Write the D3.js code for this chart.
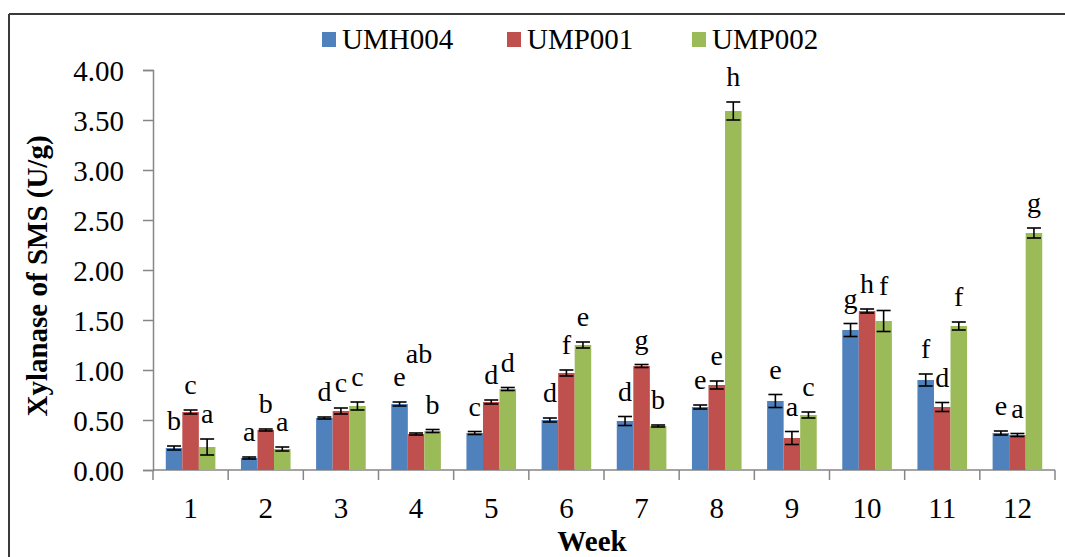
<!DOCTYPE html>
<html>
<head>
<meta charset="utf-8">
<script src="https://cdn.jsdelivr.net/npm/d3@7"></script>
</head>
<body style="margin:0">
<script>
// data
const weeks = ['1', '2', '3', '4', '5', '6', '7', '8', '9', '10', '11', '12'];
const seriesNames = ['UMH004', 'UMP001', 'UMP002'];
const colors = ['#4F81BD', '#C0504D', '#9BBB59'];

const umh004 = [0.22, 0.12, 0.52, 0.66, 0.37, 0.50, 0.49, 0.63, 0.69, 1.40, 0.90, 0.37];
const ump001 = [0.58, 0.40, 0.59, 0.36, 0.68, 0.97, 1.04, 0.85, 0.32, 1.59, 0.63, 0.35];
const ump002 = [0.23, 0.21, 0.64, 0.39, 0.81, 1.25, 0.44, 3.59, 0.55, 1.49, 1.44, 2.37];

const umh004Err = [0.02, 0.01, 0.01, 0.02, 0.015, 0.02, 0.045, 0.02, 0.065, 0.065, 0.06, 0.02];
const ump001Err = [0.02, 0.01, 0.03, 0.01, 0.02, 0.03, 0.015, 0.04, 0.065, 0.02, 0.045, 0.015];
const ump002Err = [0.08, 0.02, 0.04, 0.015, 0.015, 0.03, 0.01, 0.09, 0.03, 0.105, 0.04, 0.05];

const umh004Lab = ['b', 'a', 'd', 'e', 'c', 'd', 'd', 'e', 'e', 'g', 'f', 'e'];
const ump001Lab = ['c', 'b', 'c', 'ab', 'd', 'f', 'g', 'e', 'a', 'h', 'd', 'a'];
const ump002Lab = ['a', 'a', 'c', 'b', 'd', 'e', 'b', 'h', 'c', 'f', 'f', 'g'];

const yTicks = [0, 0.5, 1, 1.5, 2, 2.5, 3, 3.5, 4];

const values = [umh004, ump001, ump002];
const errs = [umh004Err, ump001Err, ump002Err];
const labs = [umh004Lab, ump001Lab, ump002Lab];

const width = 1065;
const height = 557;
const plotLeft = 153, plotRight = 1055, plotTop = 70, plotBottom = 470;
const fontName = ['Liberation', 'Serif'].join(' ');
const ff = () => `'${fontName}'`;

const svg = d3.select('body')
    .append('svg')
    .attr('width', width)
    .attr('height', height)
    .style('display', 'block');

// outer frame (only top and left visible in the crop)
svg.append('line')
    .attr('x1', 9).attr('x2', width).attr('y1', 14).attr('y2', 14)
    .attr('stroke', '#3a3a3a').attr('stroke-width', 2);
svg.append('line')
    .attr('x1', 9).attr('x2', 9).attr('y1', 14).attr('y2', height)
    .attr('stroke', '#3a3a3a').attr('stroke-width', 2);

const x0 = d3.scaleBand()
    .domain(weeks)
    .range([plotLeft, plotRight])
    .paddingInner(0.34)
    .paddingOuter(0.17);

const x1 = d3.scaleBand()
    .domain(seriesNames)
    .range([0, x0.bandwidth()]);

const y = d3.scaleLinear()
    .domain([0, 4])
    .range([plotBottom, plotTop]);

// y axis
const yAxis = svg.append('g')
    .attr('transform', `translate(${plotLeft},0)`)
    .call(d3.axisLeft(y).tickValues(yTicks).tickFormat(d3.format('.2f')).tickSize(10).tickPadding(19));
yAxis.attr('font-family', null).attr('font-size', null);
yAxis.select('.domain').attr('stroke', '#868686').attr('stroke-width', 1.5);
yAxis.selectAll('.tick line').attr('stroke', '#868686').attr('stroke-width', 1.5);
yAxis.selectAll('.tick text')
    .style('font-family', ff)
    .style('font-size', '29px')
    .attr('fill', '#000')
    .attr('dy', '0.35em');

// x axis with ticks between categories
const step = x0.step();
const xAxisG = svg.append('g');
xAxisG.append('line')
    .attr('x1', plotLeft).attr('x2', plotRight)
    .attr('y1', plotBottom).attr('y2', plotBottom)
    .attr('stroke', '#868686').attr('stroke-width', 1.5);
xAxisG.selectAll('line.sep')
    .data(d3.range(weeks.length + 1))
    .join('line')
    .attr('class', 'sep')
    .attr('x1', i => plotLeft + i * step).attr('x2', i => plotLeft + i * step)
    .attr('y1', plotBottom).attr('y2', plotBottom + 10)
    .attr('stroke', '#868686').attr('stroke-width', 1.5);
xAxisG.selectAll('text')
    .data(weeks)
    .join('text')
    .attr('x', d => x0(d) + x0.bandwidth() / 2)
    .attr('y', 518)
    .attr('text-anchor', 'middle')
    .style('font-family', ff)
    .style('font-size', '29px')
    .text(d => d);

// bars
const rows = [];
weeks.forEach((w, i) => {
    seriesNames.forEach((s, j) => {
        rows.push({ week: w, series: s, j: j, v: values[j][i], e: errs[j][i], lab: labs[j][i] });
    });
});

const groups = svg.append('g');
groups.selectAll('rect')
    .data(rows)
    .join('rect')
    .attr('x', d => x0(d.week) + x1(d.series))
    .attr('width', x1.bandwidth())
    .attr('y', d => y(d.v))
    .attr('height', d => y(0) - y(d.v))
    .attr('fill', d => colors[d.j]);

// error bars
const cap = 7;
const eb = svg.append('g')
    .attr('stroke', '#000')
    .attr('stroke-width', 1.6);
const ebs = eb.selectAll('g')
    .data(rows)
    .join('g')
    .attr('transform', d => `translate(${x0(d.week) + x1(d.series) + x1.bandwidth() / 2},0)`);
ebs.append('line')
    .attr('y1', d => y(d.v - d.e)).attr('y2', d => y(d.v + d.e));
ebs.append('line')
    .attr('x1', -cap).attr('x2', cap)
    .attr('y1', d => y(d.v + d.e)).attr('y2', d => y(d.v + d.e));
ebs.append('line')
    .attr('x1', -cap).attr('x2', cap)
    .attr('y1', d => y(d.v - d.e)).attr('y2', d => y(d.v - d.e));

// significance letters (two-letter tags sit higher so they clear their neighbours)
svg.append('g')
    .selectAll('text')
    .data(rows)
    .join('text')
    .attr('x', d => x0(d.week) + x1(d.series) + x1.bandwidth() / 2 + (d.lab.length > 1 ? 3 : 0))
    .attr('y', d => y(d.v + d.e) - (d.lab.length > 1 ? 70 : 16))
    .attr('text-anchor', 'middle')
    .style('font-family', ff)
    .style('font-size', '28px')
    .text(d => d.lab);

// legend
const legend = svg.append('g')
    .selectAll('g')
    .data(seriesNames)
    .join('g')
    .attr('transform', (d, i) => `translate(${322 + i * 185},0)`);
legend.append('rect')
    .attr('x', 0).attr('y', 32)
    .attr('width', 14).attr('height', 15)
    .attr('fill', (d, i) => colors[i]);
legend.append('text')
    .attr('x', 20).attr('y', 49)
    .style('font-family', ff)
    .style('font-size', '29px')
    .text(d => d);

// axis titles
svg.append('text')
    .attr('transform', 'translate(47,276) rotate(-90)')
    .attr('text-anchor', 'middle')
    .style('font-family', ff)
    .style('font-size', '29px')
    .style('font-weight', 'bold')
    .text('Xylanase of SMS (U/g)');

svg.append('text')
    .attr('x', 592)
    .attr('y', 551)
    .attr('text-anchor', 'middle')
    .style('font-family', ff)
    .style('font-size', '29px')
    .style('font-weight', 'bold')
    .text('Week');
</script>
</body>
</html>
